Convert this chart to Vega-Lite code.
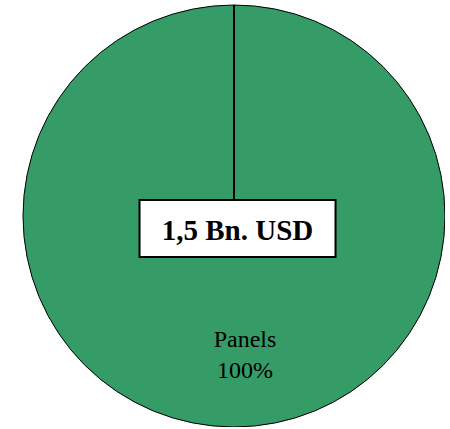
{
  "$schema": "https://vega.github.io/schema/vega-lite/v6.json",
  "width": 422,
  "height": 422,
  "padding": {"left": 23, "top": 5, "right": 0, "bottom": 0},
  "autosize": {"type": "none"},
  "background": "white",
  "config": {"view": {"stroke": null}},
  "data": {
    "values": [
      {"segment": "Panels", "value": 100, "share": "100%", "total": "1,5 Bn. USD"},
      {"segment": "", "value": 0, "share": "", "total": ""}
    ]
  },
  "layer": [
    {
      "mark": {"type": "arc", "outerRadius": 211, "fill": "#359B67", "stroke": "black"},
      "encoding": {
        "theta": {"field": "value", "type": "quantitative", "stack": true},
        "strokeWidth": {"condition": {"test": "datum.value == 0", "value": 2}, "value": 1}
      }
    },
    {
      "transform": [{"filter": "datum.value > 0"}],
      "mark": {
        "type": "point",
        "shape": "M-0.964,-0.163L1.036,-0.163L1.036,0.419L-0.964,0.419Z",
        "size": 38416,
        "filled": true,
        "fill": "white",
        "stroke": "black",
        "strokeWidth": 2,
        "opacity": 1
      },
      "encoding": {}
    },
    {
      "transform": [{"filter": "datum.value > 0"}],
      "mark": {
        "type": "text",
        "font": "Liberation Serif",
        "fontWeight": "bold",
        "fontSize": 29,
        "align": "center",
        "baseline": "alphabetic",
        "dx": 3.5,
        "dy": 24,
        "color": "black"
      },
      "encoding": {"text": {"field": "total"}}
    },
    {
      "transform": [
        {"filter": "datum.value > 0"},
        {"calculate": "[datum.segment, datum.share]", "as": "label"}
      ],
      "mark": {
        "type": "text",
        "font": "Liberation Serif",
        "fontSize": 24,
        "align": "center",
        "baseline": "alphabetic",
        "radius": 131,
        "lineHeight": 31,
        "dx": 11,
        "color": "black"
      },
      "encoding": {
        "theta": {"field": "value", "type": "quantitative", "stack": true},
        "text": {"field": "label"}
      }
    }
  ]
}
